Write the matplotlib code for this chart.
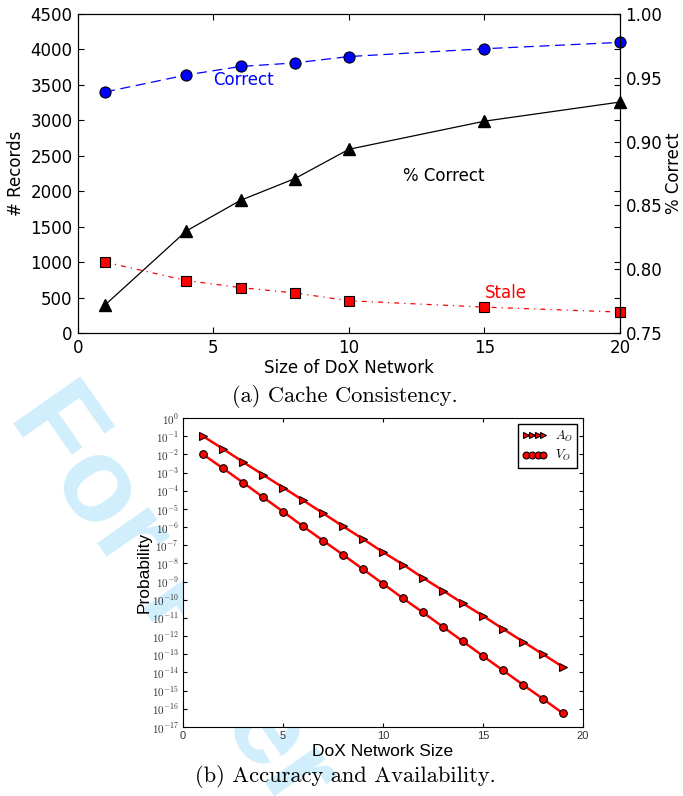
import math
import matplotlib
matplotlib.use("Agg")
import matplotlib.pyplot as plt
from matplotlib.ticker import FixedLocator, FuncFormatter, NullLocator

plt.rcParams["mathtext.fontset"] = "cm"
plt.rcParams["font.family"] = "DejaVu Sans"

# (a) cache consistency
sizes = [1, 4, 6, 8, 10, 15, 20]
correct = [3400, 3640, 3760, 3810, 3900, 4010, 4100]
stale = [1000, 740, 640, 565, 455, 365, 295]
pct_correct = [0.772, 0.830, 0.854, 0.871, 0.894, 0.916, 0.931]

# (b) accuracy / availability
net_size = list(range(1, 20))
a_o = [1.0e-1, 2.0e-2, 3.8e-3, 7.6e-4, 1.5e-4, 3.0e-5, 5.8e-6, 1.1e-6, 2.2e-7, 4.2e-8,
       8.7e-9, 1.6e-9, 3.2e-10, 6.3e-11, 1.3e-11, 2.5e-12, 5.0e-13, 1.0e-13, 2.0e-14]
v_o = [1.0e-2, 1.7e-3, 2.8e-4, 4.4e-5, 7.1e-6, 1.1e-6, 1.8e-7, 3.0e-8, 4.8e-9, 7.6e-10,
       1.2e-10, 2.0e-11, 3.2e-12, 5.1e-13, 8.0e-14, 1.3e-14, 2.1e-15, 3.5e-16, 5.6e-17]

W, H = 683, 796
fig = plt.figure(figsize=(W / 100, H / 100), dpi=100)

# page watermark, behind the axes (axes backgrounds hide most of it)
fig.text(8 / W, 1 - 416 / H, "For Peer Review", rotation=-55, rotation_mode="anchor",
         ha="left", va="baseline", fontsize=86, fontweight="bold",
         family="Liberation Sans", color="#d0eefb", zorder=-1)

# ---- top chart
ax1 = fig.add_axes([78 / W, 1 - 333 / H, 542 / W, 319 / H])
ax2 = ax1.twinx()

ax1.plot(sizes, correct, "--", color="blue", lw=0.9, dashes=(8, 4.5))
ax1.plot(sizes, correct, "o", mfc="blue", mec="black", ms=8, mew=0.8, clip_on=False)
ax1.plot(sizes, stale, "-.", color="red", lw=0.9, dashes=(4, 4, 1, 4))
ax1.plot(sizes, stale, "s", mfc="red", mec="black", ms=7.5, mew=0.8, clip_on=False)
ax2.plot(sizes, pct_correct, "-", color="black", lw=0.9)
ax2.plot(sizes, pct_correct, "^", color="black", ms=8, clip_on=False)

ax1.set_xlim(0, 20)
ax1.set_ylim(0, 4500)
ax2.set_ylim(0.75, 1.0)
ax1.set_xticks([0, 5, 10, 15, 20])
ax1.set_yticks(range(0, 4501, 500))
ax2.set_yticks([0.75, 0.80, 0.85, 0.90, 0.95, 1.00])
ax2.yaxis.set_major_formatter(FuncFormatter(lambda v, p: "%.2f" % v))
ax1.tick_params(direction="in", top=True, right=True, labelsize=12, length=4, pad=4)
ax2.tick_params(direction="in", labelsize=12, length=4, pad=4)

ax1.set_xlabel("Size of DoX Network", fontsize=12, labelpad=2)
ax1.set_ylabel("# Records", fontsize=12)
ax2.set_ylabel("% Correct", fontsize=12, labelpad=2)

ax1.text(5, 3500, "Correct", color="blue", fontsize=12)
ax1.text(12, 2150, "% Correct", color="black", fontsize=12)
ax1.text(15, 500, "Stale", color="red", fontsize=12)

fig.text(345 / W, 1 - 397 / H, "(a) Cache Consistency.", family="cmr10",
         fontsize=16.2, ha="center", va="center")

# ---- bottom chart
ax3 = fig.add_axes([183 / W, 1 - 727 / H, 400 / W, 309 / H])
ax3.semilogy(net_size, a_o, "->", color="red", lw=1.8, mfc="red", mec="black",
             ms=5.5, mew=0.8, label="$A_O$")
ax3.semilogy(net_size, v_o, "-o", color="red", lw=1.8, mfc="red", mec="black",
             ms=5.5, mew=0.8, label="$V_O$")
ax3.set_xlim(0, 20)
ax3.set_ylim(1e-17, 1e0)
ax3.set_xticks([0, 5, 10, 15, 20])
ax3.yaxis.set_major_locator(FixedLocator([10.0 ** k for k in range(-17, 1)]))
ax3.yaxis.set_minor_locator(NullLocator())
ax3.yaxis.set_major_formatter(FuncFormatter(lambda v, p: r"$10^{%d}$" % round(math.log10(v))))
ax3.tick_params(direction="in", top=True, right=True, length=3, labelsize=8, pad=3,
                labelcolor="#333333")
for lab in ax3.get_xticklabels():
    lab.set_family("Liberation Sans")
ax3.set_xlabel("DoX Network Size", family="Liberation Sans", fontsize=12.5, labelpad=2)
ax3.set_ylabel("Probability", family="Liberation Sans", fontsize=12.5, labelpad=0)
leg = ax3.legend(loc="upper right", numpoints=4, fontsize=9, handlelength=2,
                 fancybox=False, framealpha=1, borderaxespad=0.5, handletextpad=0.6,
                 labelspacing=0.35, borderpad=0.35, markerscale=0.9)
leg.get_frame().set_edgecolor("black")

fig.text(345 / W, 1 - 777 / H, "(b) Accuracy and Availability.", family="cmr10",
         fontsize=16.2, ha="center", va="center")

fig.savefig("out.png", dpi=100)
